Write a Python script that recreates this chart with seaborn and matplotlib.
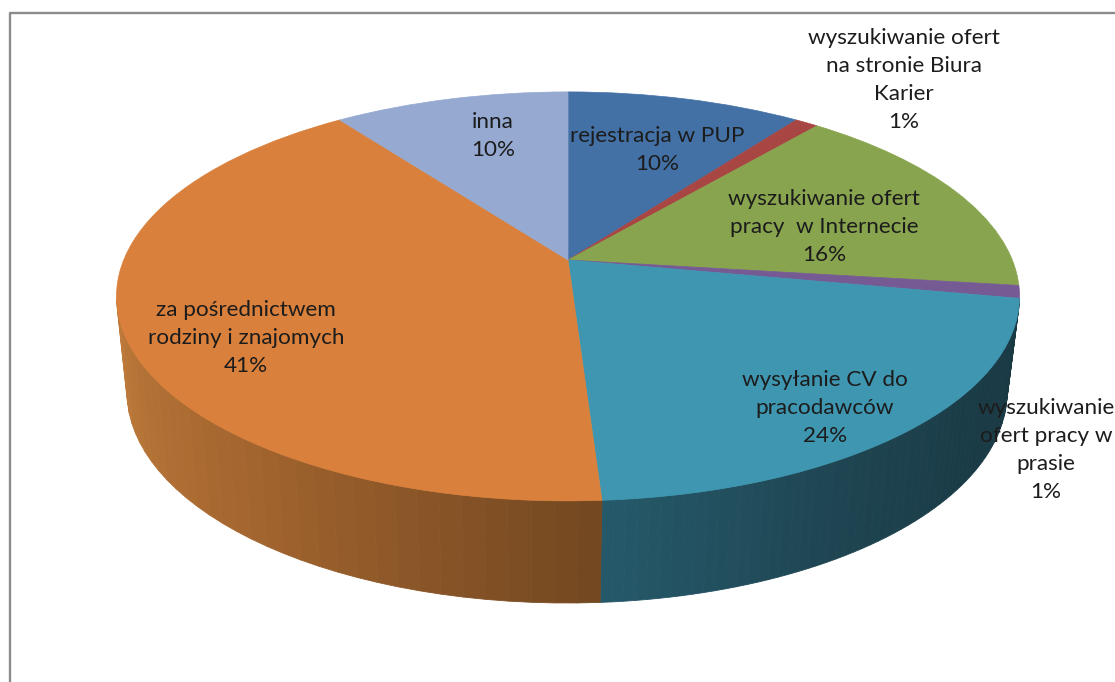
#!/usr/bin/env python3
# -*- coding: utf-8 -*-

import numpy as np
import matplotlib
matplotlib.use("Agg")
import matplotlib.pyplot as plt
import seaborn as sns
from matplotlib.transforms import Transform


# ---- Data ----
# shares as measured from the slices; the printed labels do not add up to 100
categories = [
    "rejestracja w PUP",
    "wyszukiwanie ofert\nna stronie Biura\nKarier",
    "wyszukiwanie ofert\npracy  w Internecie",
    "wyszukiwanie\nofert pracy w\nprasie",
    "wysyłanie CV do\npracodawców",
    "za pośrednictwem\nrodziny i znajomych",
    "inna",
]
shares = [10, 1, 16, 1, 21, 41, 10]
printed = ["10%", "1%", "16%", "1%", "24%", "41%", "10%"]
colors = ["#4371A6", "#A84644", "#88A44E", "#755A94", "#3E96B0", "#D9803C", "#95A9D1"]
label_x = [657, 904, 824, 1046, 825, 246, 493]
label_y = [150, 80, 227, 450, 408, 338, 136]

# side wall shading, from the start of a slice to its end (clockwise)
wall_shades = {
    4: ["#193842", "#1A3C47", "#1F4653", "#25596A"],
    5: ["#744820", "#A3652F", "#BE7A3A"],
}

# ---- Perspective of the pie top and the rim of the base (pixels) ----
CX, CY = 568, 260
A, B, P = 444.3, 198.0, 0.178
TOP_CY, TOP_RX, TOP_RY = 296, 451.5, 205
BASE_CX, BASE_CY, BASE_RX, BASE_RY = 567, 392, 440, 211


class Tilt(Transform):
    input_dims = 2
    output_dims = 2

    def transform_non_affine(self, values):
        values = np.asarray(values)
        den = 1 + P * values[:, 1]
        return np.column_stack([CX + A * values[:, 0] / den,
                                CY - B * values[:, 1] / den])


def rims(theta):
    # top rim point and the matching point on the base rim
    rad = np.radians(theta)
    top = Tilt().transform_non_affine(np.column_stack([np.sin(rad), np.cos(rad)]))
    phi = np.arctan2((top[:, 0] - CX) / TOP_RX, (TOP_CY - top[:, 1]) / TOP_RY)
    base = np.column_stack([BASE_CX + BASE_RX * np.sin(phi),
                            BASE_CY - BASE_RY * np.cos(phi)])
    return top, base, np.degrees(phi)


sns.set_theme(style="white")
plt.rcParams["font.family"] = ["Lato", "DejaVu Sans"]

fig = plt.figure(figsize=(11.15, 6.82), dpi=100)
ax = fig.add_axes([0, 0, 1, 1])

# ---- Pie top ----
wedges, _ = ax.pie(shares, colors=colors, startangle=90, counterclock=False,
                   wedgeprops=dict(linewidth=0.5))
tilt = Tilt() + ax.transData
for wedge, color in zip(wedges, colors):
    wedge.set_transform(tilt)
    wedge.set_edgecolor(color)
    wedge.set_zorder(3)
    wedge.set_clip_on(False)

# ---- Side wall ----
bounds = 360 * np.cumsum([0] + shares) / sum(shares)
for i, shades in wall_shades.items():
    theta = np.linspace(bounds[i], bounds[i + 1], 60)
    top, base, phi = rims(theta)
    keep = (phi > 89) | (phi < -89)
    top, base = top[keep], base[keep]
    bands = sns.blend_palette(shades, len(top) - 1)
    for k in range(len(top) - 1):
        xs = [top[k, 0], top[k + 1, 0], base[k + 1, 0], base[k, 0]]
        ys = [top[k, 1], top[k + 1, 1], base[k + 1, 1], base[k, 1]]
        ax.fill(xs, ys, color=bands[k], lw=0.6, zorder=2)

ax.set_aspect("auto")
ax.set_xlim(0, 1115)
ax.set_ylim(682, 0)
ax.axis("off")

# ---- Frame of the original chart area ----
ax.plot([9.5, 9.5, 1115], [682, 12.5, 12.5], color="#8C8C8C", lw=1.7, zorder=1)

# ---- Labels ----
for name, pct, x, y in zip(categories, printed, label_x, label_y):
    ax.text(x, y, f"{name}\n{pct}", ha="center", va="center", fontsize=16.2,
            color="#1C1C1C", linespacing=1.5, zorder=5)

plt.savefig("out.png", dpi=100)
plt.close(fig)
